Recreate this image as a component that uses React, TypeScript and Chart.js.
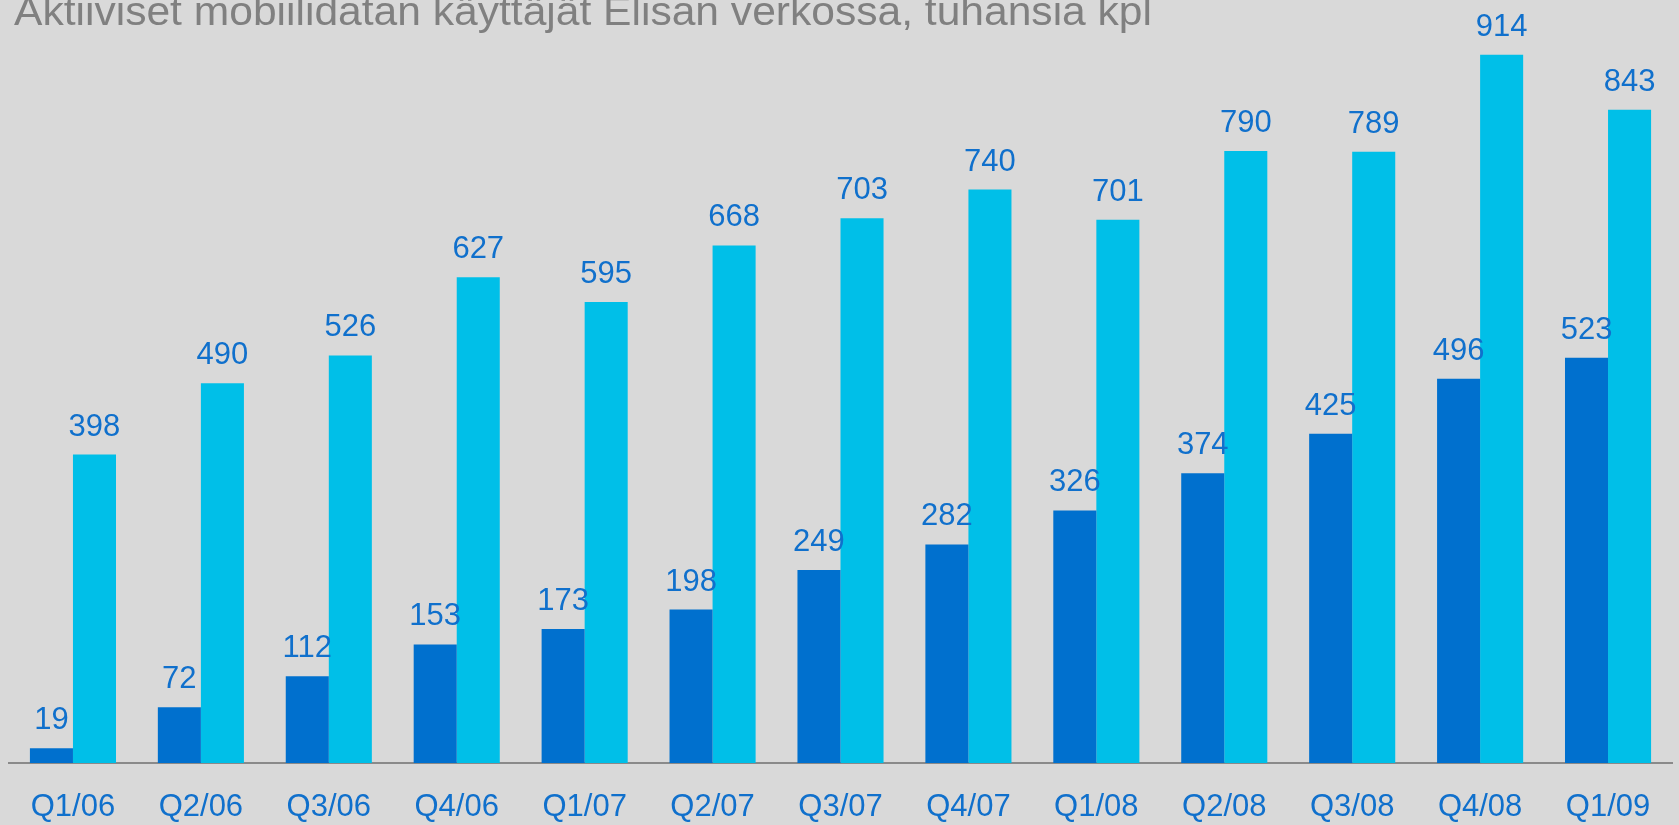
import React, { useEffect, useRef } from "react";
import { Chart, registerables } from "chart.js";

Chart.register(...registerables);

const categories = ["Q1/06", "Q2/06", "Q3/06", "Q4/06", "Q1/07", "Q2/07", "Q3/07", "Q4/07", "Q1/08", "Q2/08", "Q3/08", "Q4/08", "Q1/09"];
const seriesDark = [19, 72, 112, 153, 173, 198, 249, 282, 326, 374, 425, 496, 523];
const seriesLight = [398, 490, 526, 627, 595, 668, 703, 740, 701, 790, 789, 914, 843];
const titleText = "Aktiiviset mobiilidatan käyttäjät Elisan verkossa, tuhansia kpl";

const BG = "#D9D9D9";
const DARK = "#0070CE";
const LIGHT = "#00BFE8";
const LABEL = "#1070CC";
const FONT = "'Liberation Sans', Arial, sans-serif";

const bgPlugin = {
  id: "bg",
  beforeDraw(chart: any) {
    const { ctx, width, height } = chart;
    ctx.save();
    ctx.fillStyle = BG;
    ctx.fillRect(0, 0, width, height);
    ctx.restore();
  },
};

const labelsPlugin = {
  id: "valueLabels",
  afterDatasetsDraw(chart: any) {
    const { ctx } = chart;
    ctx.save();
    ctx.font = `31px ${FONT}`;
    ctx.fillStyle = LABEL;
    ctx.textAlign = "center";
    ctx.textBaseline = "alphabetic";
    chart.data.datasets.forEach((ds: any, di: number) => {
      const meta = chart.getDatasetMeta(di);
      meta.data.forEach((el: any, i: number) => {
        ctx.fillText(String(ds.data[i]), el.x, el.y - 19);
      });
    });
    // title
    ctx.font = `40px ${FONT}`;
    ctx.fillStyle = "#808080";
    ctx.textAlign = "left";
    const w = ctx.measureText(titleText).width;
    const sx = 1138 / w;
    ctx.translate(14, 25);
    ctx.scale(sx, 1);
    ctx.fillText(titleText, 0, 0);
    ctx.restore();
  },
};

export default function App() {
  const ref = useRef<HTMLCanvasElement>(null);
  useEffect(() => {
    document.body.style.margin = "0";
    document.body.style.background = BG;
    const chart = new Chart(ref.current!, {
      type: "bar",
      data: {
        labels: categories,
        datasets: [
          { data: seriesDark, backgroundColor: DARK, categoryPercentage: 0.673, barPercentage: 1 },
          { data: seriesLight, backgroundColor: LIGHT, categoryPercentage: 0.673, barPercentage: 1 },
        ],
      },
      options: {
        animation: false,
        responsive: false,
        maintainAspectRatio: false,
        layout: { padding: { top: 30, left: 9, right: 7, bottom: 0 } },
        plugins: { legend: { display: false }, tooltip: { enabled: false }, title: { display: false } },
        scales: {
          x: {
            grid: { display: false, drawTicks: false },
            border: { display: true, color: "#8A8A8A", width: 2 },
            ticks: { color: LABEL, font: { size: 31, family: FONT }, padding: 26, maxRotation: 0, autoSkip: false },
            afterFit(scale: any) {
              scale.height = 62;
            },
          },
          y: { display: false, min: 0, max: 946 },
        },
      },
      plugins: [bgPlugin, labelsPlugin],
    });
    return () => chart.destroy();
  }, []);
  return (
    <div style={{ width: 1679, height: 825, background: BG }}>
      <canvas ref={ref} width={1679} height={825} style={{ display: "block" }} />
    </div>
  );
}
